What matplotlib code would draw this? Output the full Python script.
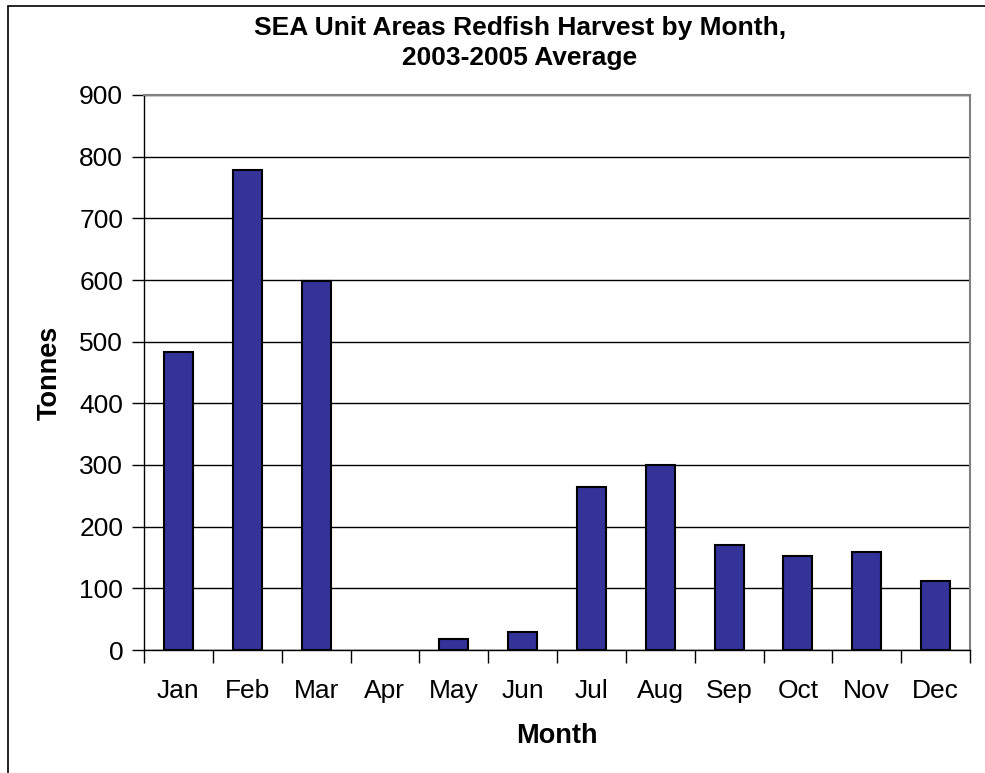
import matplotlib.pyplot as plt
from matplotlib.patches import Rectangle

# data
months = ['Jan', 'Feb', 'Mar', 'Apr', 'May', 'Jun',
          'Jul', 'Aug', 'Sep', 'Oct', 'Nov', 'Dec']
tonnes = [484, 779, 599, 0, 18, 29, 265, 300, 170, 153, 159, 112]
y_ticks = [0, 100, 200, 300, 400, 500, 600, 700, 800, 900]

plt.rcParams['font.family'] = ['Liberation Sans', 'DejaVu Sans']

fig = plt.figure(figsize=(9.85, 7.73), dpi=100, facecolor='white')
ax = fig.add_axes([144 / 985, 1 - 650 / 773, 826 / 985, 555 / 773])

x = list(range(len(months)))
bars = ax.bar(x, tonnes, width=0.42, color='#333399', edgecolor='black',
              linewidth=1.5, zorder=3)
for b, v in zip(bars, tonnes):
    if v == 0:
        b.set_linewidth(0)

ax.set_xlim(-0.5, len(months) - 0.5)
ax.set_ylim(0, 900)
ax.set_yticks(y_ticks)
ax.yaxis.grid(True, color='black', linewidth=1, zorder=0)

# month labels between category boundary ticks
ax.set_xticks([i - 0.5 for i in range(len(months) + 1)])
ax.set_xticklabels([])
ax.set_xticks(x, minor=True)
ax.set_xticklabels(months, minor=True, fontsize=19)
ax.tick_params(axis='x', which='major', length=9, width=1, direction='out',
               color='black')
ax.tick_params(axis='x', which='minor', length=0, pad=21)
ax.tick_params(axis='y', length=9, width=1, direction='out',
               labelsize=19, pad=6)

for side in ['top', 'right']:
    ax.spines[side].set_color('#808080')
    ax.spines[side].set_linewidth(1.5)
for side in ['left', 'bottom']:
    ax.spines[side].set_color('black')
    ax.spines[side].set_linewidth(1)

ax.set_ylabel('Tonnes', fontsize=19.5, fontweight='bold', labelpad=12)
ax.set_xlabel('Month', fontsize=19.5, fontweight='bold', labelpad=14)

fig.text(520 / 985, 1 - 43 / 773,
         'SEA Unit Areas Redfish Harvest by Month,\n2003-2005 Average',
         ha='center', va='center', fontsize=19, fontweight='bold',
         linespacing=1.35)

# outer chart border
fig.patches.append(Rectangle((8 / 985, -0.01), 1.0, 1 - 6 / 773 + 0.01,
                             transform=fig.transFigure, fill=False,
                             edgecolor='black', linewidth=1.2))

fig.savefig('out.png', dpi=100)
